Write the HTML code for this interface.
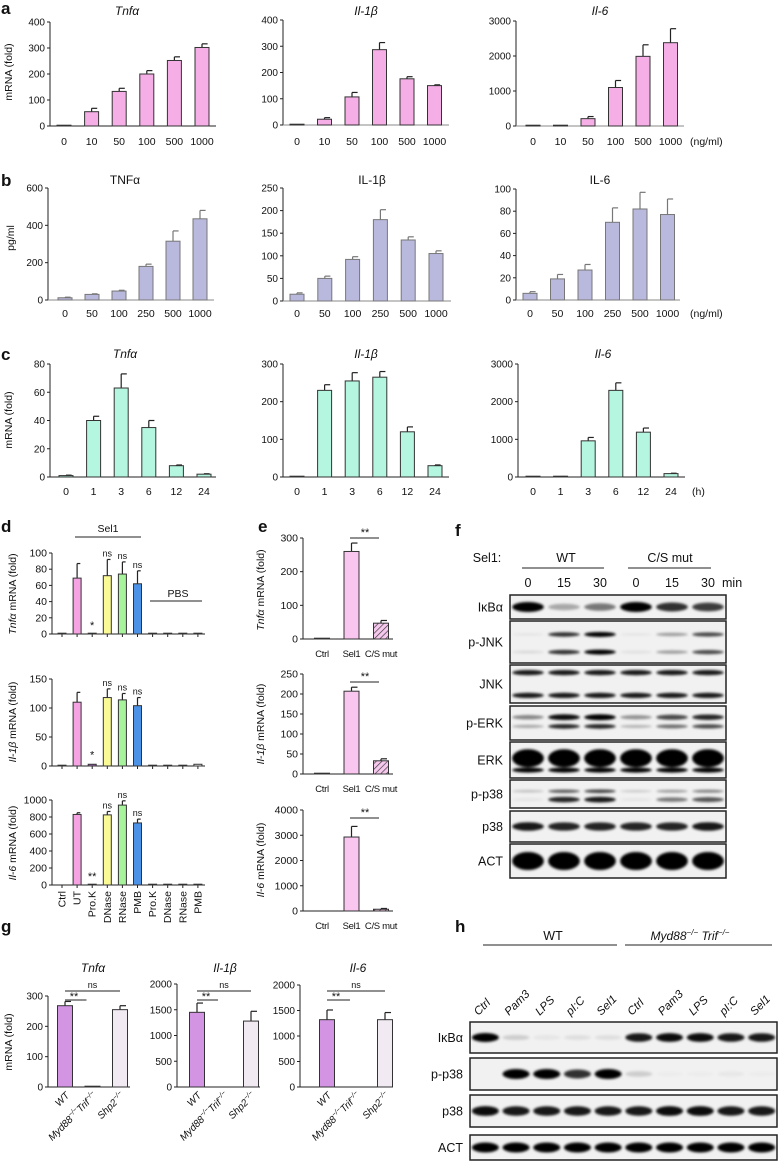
<!DOCTYPE html>
<html><head><meta charset="utf-8">
<style>
html,body{margin:0;padding:0;background:#fff;}
svg{display:block;font-family:"Liberation Sans",sans-serif;}
</style></head>
<body>
<svg id="fig" width="779" height="1162" viewBox="0 0 779 1162" xmlns="http://www.w3.org/2000/svg">
<defs>
<filter id="blur" x="-20%" y="-50%" width="140%" height="200%"><feGaussianBlur stdDeviation="1.3"/></filter>
<pattern id="hatch" width="4" height="4" patternUnits="userSpaceOnUse" patternTransform="rotate(45)">
<rect width="4" height="4" fill="#f6c8ee"/><line x1="0" y1="0" x2="0" y2="4" stroke="#333" stroke-width="1.3"/></pattern>
</defs>
<g id="root"></g>
</svg>
<script>
// ---------- data ----------
const doseCatsA = ["0","10","50","100","500","1000"];
const aTnf = [0,55,133,200,252,302];
const aTnfErr = [0,13,12,13,14,14];
const aIl1 = [0,22,107,287,176,150];
const aIl1Err = [0,6,17,27,8,3];
const aIl6 = [0,10,210,1100,1990,2380];
const aIl6Err = [0,2,60,200,330,400];

const doseCatsB = ["0","50","100","250","500","1000"];
const bTnf = [12,30,48,180,315,435];
const bTnfErr = [3,3,4,12,55,45];
const bIl1 = [15,50,92,180,135,105];
const bIl1Err = [3,5,6,22,7,6];
const bIl6 = [6,19,27,70,82,77];
const bIl6Err = [1.5,4,5,13,15,14];

const timeCats = ["0","1","3","6","12","24"];
const cTnf = [1,40,63,35,8,2];
const cTnfErr = [0.3,3,10,5,0.5,0.3];
const cIl1 = [1,230,255,265,120,30];
const cIl1Err = [0,15,22,15,13,2];
const cIl6 = [0,10,960,2300,1190,90];
const cIl6Err = [0,3,90,200,110,10];

const dCats = ["Ctrl","UT","Pro.K","DNase","RNase","PMB","Pro.K","DNase","RNase","PMB"];
const dTnf = [1,69,1,72,74,62,1,1,1,1];
const dTnfErr = [0,18,0,20,15,16,0,0,0,0];
const dIl1 = [1,110,3,118,114,104,1,1,1,3];
const dIl1Err = [0,17,0,15,11,14,0,0,0,0];
const dIl6 = [0,830,0,825,940,730,5,5,3,5];
const dIl6Err = [0,20,0,40,50,45,0,0,0,0];

const eCats = ["Ctrl","Sel1","C/S mut"];
const eTnf = [1,260,47];
const eTnfErr = [0,25,8];
const eIl1 = [1,207,33];
const eIl1Err = [0,10,5];
const eIl6 = [0,2930,70];
const eIl6Err = [0,420,30];

const gCats = ["WT","Myd88","Shp2"];
const gTnf = [268,1,255];
const gTnfErr = [14,0,13];
const gIl1 = [1450,0,1280];
const gIl1Err = [180,0,190];
const gIl6 = [1320,0,1320];
const gIl6Err = [190,0,140];

// blot intensities
const fLanes = ["0","15","30","0","15","30"];
const fIkb = [1,0.3,0.5,1,0.8,0.75];
const fPjnkTop = [0.05,0.8,1,0.05,0.35,0.7];
const fPjnkBot = [0.1,0.8,1,0.08,0.35,0.7];
const fJnk = [0.9,0.9,0.9,0.9,0.9,0.9];
const fPerkTop = [0.45,0.95,1,0.4,0.7,0.85];
const fPerkBot = [0.3,0.85,0.85,0.25,0.55,0.7];
const fErk = [1,1,1,1,1,1];
const fPp38Top = [0.2,0.6,0.7,0.15,0.35,0.45];
const fPp38Bot = [0.05,0.85,0.9,0.05,0.5,0.65];
const fP38 = [0.9,0.85,0.85,0.85,0.85,0.9];
const fAct = [1,1,1,1,1,1];

const hLanes = ["Ctrl","Pam3","LPS","pI:C","Sel1","Ctrl","Pam3","LPS","pI:C","Sel1"];
const hIkb = [1,0.15,0.05,0.08,0.08,0.9,0.95,0.95,0.9,0.9];
const hPp38 = [0,1,1,0.8,1,0.15,0.02,0.02,0.04,0.02];
const hP38 = [0.95,0.9,0.9,0.9,0.9,0.9,0.95,0.95,0.9,0.9];
const hAct = [1,1,1,1,1,1,1,1,1,1];

// ---------- helpers ----------
const NS = "http://www.w3.org/2000/svg";
const root = document.getElementById("root");
function el(tag, attrs, parent, text){
  const e = document.createElementNS(NS, tag);
  for (const k in attrs) e.setAttribute(k, attrs[k]);
  if (text !== undefined) e.textContent = text;
  (parent || root).appendChild(e);
  return e;
}
function txt(x,y,s,size,anchor,parent,extra){
  const a = {x:x,y:y,"font-size":size,"text-anchor":anchor||"middle",fill:"#111"};
  if (extra) for (const k in extra) a[k]=extra[k];
  return el("text",a,parent,s);
}

function chart(c){
  const g = el("g",{});
  
  
  const ys = v => c.yBot - (v / c.max) * (c.yBot - c.yTop);
  const xs = i => c.x0 + i * c.step;
  const ax = el("g",{},g);
  
  
  el("line",{x1:c.ax,y1:c.yTop,x2:c.ax,y2:c.yBot,stroke:"#222","stroke-width":1},ax);
  el("line",{x1:c.ax,y1:c.yBot,x2:c.xEnd,y2:c.yBot,stroke:c.baseColor||"#222","stroke-width":1},g);
  c.ticks.forEach(t=>{
    const y = ys(t);
    el("line",{x1:c.ax-3,y1:y,x2:c.ax,y2:y,stroke:"#222"},ax);
    const tl = txt(c.ax-5,y+3.5,String(t),c.fs||10,"end",ax);
    
    
  });
  c.vals.forEach((v,i)=>{
    const x = xs(i);
    if (c.xTicks) el("line",{x1:x,y1:c.yBot,x2:x,y2:c.yBot+3,stroke:"#222"},g);
    const fill = Array.isArray(c.fill) ? c.fill[i] : c.fill;
    const e = c.errs[i];
    if (e > 0){
      const eb = el("g",{},g);
      
      
      el("line",{x1:x,y1:ys(v),x2:x,y2:ys(v+e),stroke:c.errColor||"#222","stroke-width":1.2},eb);
      el("line",{x1:x,y1:ys(v+e),x2:x+c.bw*0.4,y2:ys(v+e),stroke:c.errColor||"#222","stroke-width":1.2},eb);
    }
    const h = Math.max(ys(0)-ys(v),0.8);
    if (fill !== "none" || v > 0){
      const r = el("rect",{x:x-c.bw/2,y:ys(0)-h,width:c.bw,height:h,fill:fill==="none"?"#fff":fill,stroke:c.stroke||"#333","stroke-width":1},g);
      
      
    }
    if (c.labelY !== undefined && c.cats){
      const l = txt(x,c.labelY,c.cats[i],c.lfs||c.fs||10.5,"middle",g,c.lextra);
      
      
    }
  });
  if (c.title){
    const t = el("text",{x:c.titleX,y:c.titleY,"font-size":12,"text-anchor":"middle",fill:"#111","font-style":c.italic?"italic":"normal"},g,c.title);
    
    
  }
  return {g:g,ys:ys,xs:xs};
}

function ylabel(x,y,parts,name){
  const t = el("text",{x:0,y:0,"font-size":10.5,"text-anchor":"middle",fill:"#111",transform:`translate(${x},${y}) rotate(-90)`});
  parts.forEach(p=>{ el("tspan",{"font-style":p[1]?"italic":"normal"},t,p[0]); });
  
  
}
function panelLabel(x,y,s){
  const t = txt(x,y,s,17,"start",null,{"font-weight":"bold"});
  
  
}

const PINK="#f5aee6", LAV="#b9b9de", GREEN="#b4f6df";

// ---------- panel a ----------
panelLabel(1,14,"a");
chart({name:"a-tnf-chart",ax:50,x0:64,step:27.6,xEnd:216,yTop:22,yBot:126,max:400,ticks:[0,100,200,300,400],vals:aTnf,errs:aTnfErr,fill:PINK,bw:14,cats:doseCatsA,labelY:145,title:"Tnfα",titleX:127,titleY:15,italic:true});
chart({name:"a-il1b-chart",ax:283,x0:297,step:27.5,xEnd:449,yTop:20,yBot:125,max:400,ticks:[0,100,200,300,400],vals:aIl1,errs:aIl1Err,fill:PINK,bw:14,cats:doseCatsA,labelY:145,title:"Il-1β",titleX:366,titleY:15,italic:true,baseColor:"#888"});
chart({name:"a-il6-chart",ax:516,x0:533,step:27.5,xEnd:684,yTop:21,yBot:126,max:3000,ticks:[0,1000,2000,3000],vals:aIl6,errs:aIl6Err,fill:PINK,bw:14,cats:doseCatsA,labelY:145,title:"Il-6",titleX:600,titleY:15,italic:true,baseColor:"#888"});
ylabel(12,72,[["mRNA (fold)",false]],"a-y-axis-title");
txt(690,145,"(ng/ml)",10.5,"start");

// ---------- panel b ----------
panelLabel(1,186,"b");
chart({name:"b-tnf-chart",ax:48,x0:65,step:27,xEnd:214,yTop:188,yBot:300,max:600,ticks:[0,200,400,600],vals:bTnf,errs:bTnfErr,fill:LAV,stroke:"#777",errColor:"#777",bw:14,cats:doseCatsB,labelY:317,title:"TNFα",titleX:125,titleY:184,baseColor:"#888"});
chart({name:"b-il1b-chart",ax:283,x0:297,step:27.8,xEnd:451,yTop:188,yBot:301,max:250,ticks:[0,50,100,150,200,250],vals:bIl1,errs:bIl1Err,fill:LAV,stroke:"#777",errColor:"#777",bw:14,cats:doseCatsB,labelY:317,title:"IL-1β",titleX:372,titleY:184,baseColor:"#888"});
chart({name:"b-il6-chart",ax:516,x0:530,step:27.5,xEnd:680,yTop:189,yBot:300,max:100,ticks:[0,20,40,60,80,100],vals:bIl6,errs:bIl6Err,fill:LAV,stroke:"#777",errColor:"#777",bw:14,cats:doseCatsB,labelY:317,title:"IL-6",titleX:600,titleY:184,baseColor:"#888"});
ylabel(14,238,[["pg/ml",false]],"b-y-axis-title");
txt(690,317,"(ng/ml)",10.5,"start");

// ---------- panel c ----------
panelLabel(1,360,"c");
chart({name:"c-tnf-chart",ax:50,x0:66,step:27.6,xEnd:216,yTop:364,yBot:477,max:80,ticks:[0,20,40,60,80],vals:cTnf,errs:cTnfErr,fill:GREEN,bw:14,cats:timeCats,labelY:495,title:"Tnfα",titleX:125,titleY:358,italic:true});
chart({name:"c-il1b-chart",ax:283,x0:297,step:27.6,xEnd:449,yTop:364,yBot:477,max:300,ticks:[0,100,200,300],vals:cIl1,errs:cIl1Err,fill:GREEN,bw:14,cats:timeCats,labelY:495,title:"Il-1β",titleX:366,titleY:358,italic:true});
chart({name:"c-il6-chart",ax:518,x0:533,step:27.6,xEnd:685,yTop:364,yBot:477,max:3000,ticks:[0,1000,2000,3000],vals:cIl6,errs:cIl6Err,fill:GREEN,bw:14,cats:timeCats,labelY:495,title:"Il-6",titleX:603,titleY:358,italic:true});
ylabel(12,420,[["mRNA (fold)",false]],"c-y-axis-title");
txt(692,495,"(h)",10.5,"start");

// ---------- panel d ----------
panelLabel(1,532,"d");
const dFill = ["none","#f5a3e3","#b06bc0","#fbfb96","#a7f39b","#4c92e6","none","none","none","none"];
const d1 = chart({name:"d-tnf-chart",ax:52,x0:62,step:15.1,xEnd:205,yTop:553,yBot:634,max:100,ticks:[0,20,40,60,80,100],vals:dTnf,errs:dTnfErr,fill:dFill,bw:8,xTicks:true,fs:10.5});
const d2 = chart({name:"d-il1b-chart",ax:52,x0:62,step:15.1,xEnd:205,yTop:679,yBot:766,max:150,ticks:[0,50,100,150],vals:dIl1,errs:dIl1Err,fill:dFill,bw:8,xTicks:true,fs:10.5});
const d3 = chart({name:"d-il6-chart",ax:52,x0:62,step:15.1,xEnd:205,yTop:800,yBot:885,max:1000,ticks:[0,200,400,600,800,1000],vals:dIl6,errs:dIl6Err,fill:dFill,bw:8,xTicks:true,fs:10.5});
ylabel(16,594,[["Tnfα",true],[" mRNA (fold)",false]],"d-tnf-y-title");
ylabel(16,722,[["Il-1β",true],[" mRNA (fold)",false]],"d-il1b-y-title");
ylabel(16,843,[["Il-6",true],[" mRNA (fold)",false]],"d-il6-y-title");
el("line",{x1:75,y1:537,x2:141,y2:537,stroke:"#222"});
txt(108,532,"Sel1",10.5);
el("line",{x1:150,y1:601,x2:202,y2:601,stroke:"#222"});
txt(178,597,"PBS",10.5);
function sig(ch,i,v,e,s,off){ const t=txt(ch.xs(i),ch.ys(v+e)-(off||3),s,s==="ns"?9:11);   }
[3,4,5].forEach(i=>{ sig(d1,i,dTnf[i],dTnfErr[i],"ns"); sig(d2,i,dIl1[i],dIl1Err[i],"ns"); sig(d3,i,dIl6[i],dIl6Err[i],"ns"); });
sig(d1,2,dTnf[2],0,"*",4); sig(d2,2,dIl1[2],0,"*",6); sig(d3,2,dIl6[2],0,"**",5);
dCats.forEach((c,i)=>{
  const x = d3.xs(i);
  const t = el("text",{x:0,y:0,"font-size":10.5,"text-anchor":"end",fill:"#111",transform:`translate(${x+3.5},${891}) rotate(-90)`},null,c);
  
  
});

// ---------- panel e ----------
panelLabel(258,532,"e");
const eFill = ["none","#f8c6ef","url(#hatch)"];
const eL = {"letter-spacing":"-0.3"};
const e1 = chart({name:"e-tnf-chart",ax:303,x0:322,step:29.5,xEnd:393,yTop:538,yBot:639,max:300,ticks:[0,100,200,300],vals:eTnf,errs:eTnfErr,fill:eFill,bw:15,cats:eCats,labelY:657,fs:10.5,lfs:9.5,lextra:eL});
const e2 = chart({name:"e-il1b-chart",ax:303,x0:322,step:29.5,xEnd:393,yTop:674,yBot:774,max:250,ticks:[0,50,100,150,200,250],vals:eIl1,errs:eIl1Err,fill:eFill,bw:15,cats:eCats,labelY:792,fs:10.5,lfs:9.5,lextra:eL});
const e3 = chart({name:"e-il6-chart",ax:303,x0:322,step:29.5,xEnd:393,yTop:810,yBot:911,max:4000,ticks:[0,1000,2000,3000,4000],vals:eIl6,errs:eIl6Err,fill:eFill,bw:15,cats:eCats,labelY:929,fs:10.5,lfs:9.5,lextra:eL});
ylabel(264,590,[["Tnfα",true],[" mRNA (fold)",false]],"e-tnf-y-title");
ylabel(264,724,[["Il-1β",true],[" mRNA (fold)",false]],"e-il1b-y-title");
ylabel(264,860,[["Il-6",true],[" mRNA (fold)",false]],"e-il6-y-title");
[[538],[682],[818]].forEach((r,k)=>{
  el("line",{x1:350,y1:r[0],x2:379,y2:r[0],stroke:"#222"});
  txt(365,r[0]-2,"**",11);
});

// ---------- blots ----------
function blot(name,x0,x1,y0,y1,n,bands,label,labelX){
  const g = el("g",{});
  
  
  el("rect",{x:x0,y:y0,width:x1-x0,height:y1-y0,fill:"#f1f1f1",stroke:"#222","stroke-width":1.5},g);
  const lw = (x1-x0)/n;
  const bg = el("g",{filter:"url(#blur)"},g);
  bands.forEach(b=>{
    b.vals.forEach((v,i)=>{
      if (v<=0.01) return;
      const cx = x0 + lw*(i+0.5);
      const cy = y0 + (y1-y0)*b.pos;
      el("ellipse",{cx:cx,cy:cy,rx:lw*0.44,ry:b.h*(0.5+0.5*v),fill:"#000","fill-opacity":Math.min(1,v)},bg);
    });
  });
  const t = txt(labelX,(y0+y1)/2+4.5,label,12.5,"end",g);
  
  
}
// panel f
panelLabel(455,536,"f");
txt(487,562,"Sel1:",12.5);
el("line",{x1:522,y1:568,x2:604,y2:568,stroke:"#222"});
txt(566,562,"WT",12.5);
el("line",{x1:628,y1:568,x2:711,y2:568,stroke:"#222"});
txt(670,562,"C/S mut",12.5);
fLanes.forEach((s,i)=>{ const t=txt(510+36*(i+0.5),587,s,12.5);   });
txt(722,587,"min",12.5,"start");
const FX0=510,FX1=726,FL=503;
blot("f-ikba-blot",FX0,FX1,595,619,6,[{pos:0.5,h:5,vals:fIkb}],"IκBα",FL);
blot("f-pjnk-blot",FX0,FX1,621,663,6,[{pos:0.32,h:2.5,vals:fPjnkTop},{pos:0.74,h:2.5,vals:fPjnkBot}],"p-JNK",FL);
blot("f-jnk-blot",FX0,FX1,665,703,6,[{pos:0.2,h:2.8,vals:fJnk},{pos:0.8,h:2.8,vals:fJnk}],"JNK",FL);
blot("f-perk-blot",FX0,FX1,706,740,6,[{pos:0.33,h:3,vals:fPerkTop},{pos:0.6,h:2.5,vals:fPerkBot}],"p-ERK",FL);
blot("f-erk-blot",FX0,FX1,742,778,6,[{pos:0.45,h:9,vals:fErk},{pos:0.78,h:2.5,vals:fErk}],"ERK",FL);
blot("f-pp38-blot",FX0,FX1,780,808,6,[{pos:0.4,h:2.2,vals:fPp38Top},{pos:0.7,h:3,vals:fPp38Bot}],"p-p38",FL);
blot("f-p38-blot",FX0,FX1,811,842,6,[{pos:0.5,h:4.5,vals:fP38}],"p38",FL);
blot("f-act-blot",FX0,FX1,844,878,6,[{pos:0.5,h:9,vals:fAct}],"ACT",FL);

// ---------- panel g ----------
panelLabel(1,932,"g");
const gFill = ["#d394e4","none","#f2eaf3"];
const g1 = chart({name:"g-tnf-chart",ax:48,x0:65,step:27.5,xEnd:130,yTop:996,yBot:1087,max:300,ticks:[0,100,200,300],vals:gTnf,errs:gTnfErr,fill:gFill,bw:15,title:"Tnfα",titleX:93,titleY:972,italic:true,fs:10});
const g2 = chart({name:"g-il1b-chart",ax:177,x0:197,step:27,xEnd:260,yTop:984,yBot:1087,max:2000,ticks:[0,500,1000,1500,2000],vals:gIl1,errs:gIl1Err,fill:gFill,bw:15,title:"Il-1β",titleX:225,titleY:972,italic:true,fs:10});
const g3 = chart({name:"g-il6-chart",ax:300,x0:327,step:29,xEnd:392,yTop:985,yBot:1087,max:2000,ticks:[0,500,1000,1500,2000],vals:gIl6,errs:gIl6Err,fill:gFill,bw:15,title:"Il-6",titleX:358,titleY:972,italic:true,fs:10});
ylabel(12,1042,[["mRNA (fold)",false]],"g-y-axis-title");
[g1,g2,g3].forEach((ch,k)=>{
  const xa = ch.xs(0), xb = ch.xs(1), xc = ch.xs(2);
  el("line",{x1:xa,y1:991,x2:xc,y2:991,stroke:"#222"});
  txt((xa+xc)/2,988,"ns",9);
  el("line",{x1:xa,y1:1000,x2:xb-6,y2:1000,stroke:"#222"});
  txt(xa+9,1000,"**",11);
  const labels = [[["WT",0]],[["Myd88",0],["−/−",1],["Trif",0],["−/−",1]],[["Shp2",0],["−/−",1]]];
  labels.forEach((parts,i)=>{
    const t = el("text",{x:0,y:0,"font-size":10,"text-anchor":"end","font-style":"italic",fill:"#111",transform:`translate(${ch.xs(i)+5},${1096}) rotate(-45)`});
    parts.forEach((p,j)=>{ el("tspan",p[1]?{"font-size":7,dy:-4}:{"dy":j===0?0:4},t,p[0]); });
    
    
  });
});

// ---------- panel h ----------
panelLabel(455,932,"h");
el("line",{x1:483,y1:945,x2:617,y2:945,stroke:"#222"});
txt(553,940,"WT",12.5);
el("line",{x1:625,y1:945,x2:772,y2:945,stroke:"#222"});
const hk = el("text",{x:690,y:940,"font-size":12,"text-anchor":"middle","font-style":"italic",fill:"#111"});
el("tspan",{},hk,"Myd88");el("tspan",{"font-size":8,dy:-5},hk,"−/−");el("tspan",{dy:5},hk," Trif");el("tspan",{"font-size":8,dy:-5},hk,"−/−");


const HX0=470,HX1=777,HL=463;
const hLw=(HX1-HX0)/hLanes.length;
hLanes.forEach((s,i)=>{
  const t = el("text",{x:0,y:0,"font-size":11.5,"font-style":"italic",fill:"#111",transform:`translate(${HX0+hLw*(i+0.5)-7},${1016}) rotate(-45)`},null,s);
  
  
});
blot("h-ikba-blot",HX0,HX1,1022,1053,10,[{pos:0.5,h:4.5,vals:hIkb}],"IκBα",HL);
blot("h-pp38-blot",HX0,HX1,1058,1090,10,[{pos:0.5,h:5,vals:hPp38}],"p-p38",HL);
blot("h-p38-blot",HX0,HX1,1095,1127,10,[{pos:0.5,h:5,vals:hP38}],"p38",HL);
blot("h-act-blot",HX0,HX1,1135,1160,10,[{pos:0.5,h:5,vals:hAct}],"ACT",HL);
</script>
</body></html>
